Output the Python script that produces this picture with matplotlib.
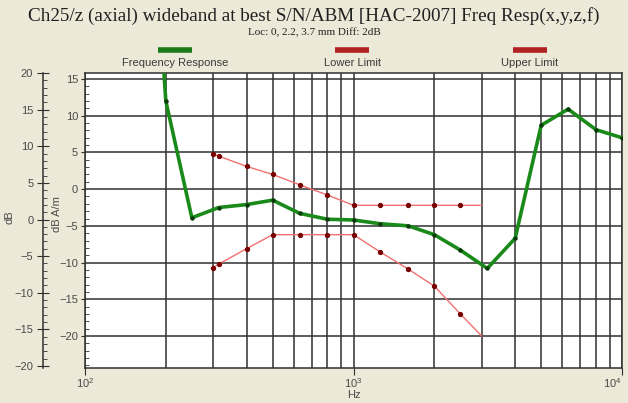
import matplotlib.pyplot as plt
from matplotlib.lines import Line2D
from matplotlib.ticker import FixedLocator, MultipleLocator, LogLocator, NullFormatter

# data (Hz, dB A/m)
resp_hz = [160, 200, 250, 315, 400, 500, 630, 800, 1000, 1250, 1600, 2000,
           2500, 3150, 4000, 5000, 6300, 8000, 10000]
resp_db = [65, 12.0, -3.9, -2.5, -2.1, -1.5, -3.3, -4.1, -4.2, -4.7, -5.0, -6.2,
           -8.3, -10.8, -6.7, 8.7, 10.9, 8.1, 7.0]

upper_hz = [300, 315, 400, 500, 630, 800, 1000, 1250, 1600, 2000, 2500, 3000]
upper_db = [4.8, 4.5, 3.1, 2.0, 0.6, -0.8, -2.2, -2.2, -2.2, -2.2, -2.2, -2.2]

lower_hz = [300, 315, 400, 500, 630, 800, 1000, 1250, 1600, 2000, 2500, 3000]
lower_db = [-10.7, -10.2, -8.1, -6.2, -6.2, -6.2, -6.2, -8.5, -10.9, -13.2, -17.0, -20.0]

decades = [100, 1000, 10000]
legend_names = ["Frequency Response", "Lower Limit", "Upper Limit"]

bg = '#ece9d8'
grid_c = '#303030'
txt_c = '#4a4a4a'
W, H = 628, 403

fig = plt.figure(figsize=(6.28, 4.03), dpi=100, facecolor=bg)
ax = fig.add_axes([85 / W, 1 - 368 / H, 537 / W, 295 / H])
ax.set_facecolor('white')
ax.set_xscale('log')
ax.set_xlim(100, 10000)
ax.set_ylim(-24.36, 15.82)

ax.xaxis.set_major_locator(FixedLocator(decades))
ax.xaxis.set_minor_locator(LogLocator(base=10, subs=range(2, 10), numticks=20))
ax.xaxis.set_minor_formatter(NullFormatter())
ax.yaxis.set_major_locator(FixedLocator(range(-20, 16, 5)))
ax.yaxis.set_minor_locator(MultipleLocator(1))
ax.grid(which='both', axis='x', color=grid_c, lw=1.1)
ax.grid(which='major', axis='y', color=grid_c, lw=1.1)
ax.set_axisbelow(True)

for s in ax.spines.values():
    s.set_color(grid_c)
    s.set_linewidth(1.1)

ax.tick_params(axis='x', which='major', length=5, direction='out', pad=1,
               labelsize=8, labelcolor=txt_c, color=grid_c)
ax.tick_params(axis='x', which='minor', length=0)
ax.tick_params(axis='y', which='major', length=3, direction='out', pad=2,
               labelsize=8, labelcolor=txt_c, color=grid_c)
ax.tick_params(axis='y', which='minor', length=3, direction='in', color=grid_c)
for lab in ax.get_xticklabels() + ax.get_yticklabels():
    lab.set_family('Liberation Sans')

ax.set_xlabel('Hz', fontsize=8, color=txt_c, family='Liberation Sans', labelpad=0)
ax.set_ylabel('dB A/m', fontsize=8, color=txt_c, family='Liberation Sans')
ax.yaxis.set_label_coords(-0.043, 0.522)

# curves
ax.plot(resp_hz, resp_db, color='#1a8a1a', lw=2.6, zorder=4,
        marker='o', ms=2.2, mfc='#0a3a0a', mec='#0a3a0a')
ax.plot(upper_hz, upper_db, color='#f07070', lw=1.0, zorder=3,
        marker='o', ms=2.8, mfc='#7a0000', mec='#7a0000', markevery=slice(0, -1))
ax.plot(lower_hz, lower_db, color='#f07070', lw=1.0, zorder=3,
        marker='o', ms=2.8, mfc='#7a0000', mec='#7a0000', markevery=slice(0, -1))

# outer dB axis
ax2 = ax.twinx()
ax2.set_ylim(-20.27, 20)
ax2.spines['right'].set_visible(False)
ax2.spines['top'].set_visible(False)
ax2.spines['bottom'].set_visible(False)
ax2.spines['left'].set_visible(True)
ax2.spines['left'].set_position(('axes', -42 / 537))
ax2.spines['left'].set_color(grid_c)
ax2.spines['left'].set_linewidth(1.1)
ax2.yaxis.set_ticks_position('left')
ax2.yaxis.set_label_position('left')
ax2.yaxis.set_major_locator(MultipleLocator(5))
ax2.yaxis.set_minor_locator(MultipleLocator(1))
ax2.tick_params(axis='y', which='major', length=8, direction='inout', pad=3,
                labelsize=8, labelcolor=txt_c, color=grid_c)
ax2.tick_params(axis='y', which='minor', length=3, direction='in', color=grid_c)
for lab in ax2.get_yticklabels():
    lab.set_family('Liberation Sans')
ax2.set_ylabel('dB', fontsize=8, color=txt_c, family='Liberation Sans')
ax2.yaxis.set_label_coords(-0.132, 0.512)

# titles
fig.text(0.5, 1 - 16 / H, "Ch25/z (axial) wideband at best S/N/ABM [HAC-2007] Freq Resp(x,y,z,f)",
         ha='center', va='center', fontsize=13.8, family='Liberation Serif', color='#202020')
fig.text(0.5, 1 - 33 / H, "Loc: 0, 2.2, 3.7 mm Diff: 2dB",
         ha='center', va='center', fontsize=8, family='Liberation Serif', color='#202020')

# legend strip
leg_x = [175, 352, 530]
leg_c = ['#1a7a1a', '#b02020', '#b02020']
for x, c, name in zip(leg_x, leg_c, legend_names):
    fig.add_artist(Line2D([(x - 17) / W, (x + 17) / W], [1 - 49.5 / H] * 2,
                          transform=fig.transFigure, color=c, lw=4,
                          solid_capstyle='butt'))
    fig.text(x / W, 1 - 63 / H, name, ha='center', va='center', fontsize=8,
             family='Liberation Sans', color='#3a3a3a')

# keep the 10^4 label inside the figure
last_tick = ax.xaxis.get_major_ticks()[-1]
last_tick.label1.set_horizontalalignment('right')

fig.savefig('out.png', dpi=100, facecolor=bg)
